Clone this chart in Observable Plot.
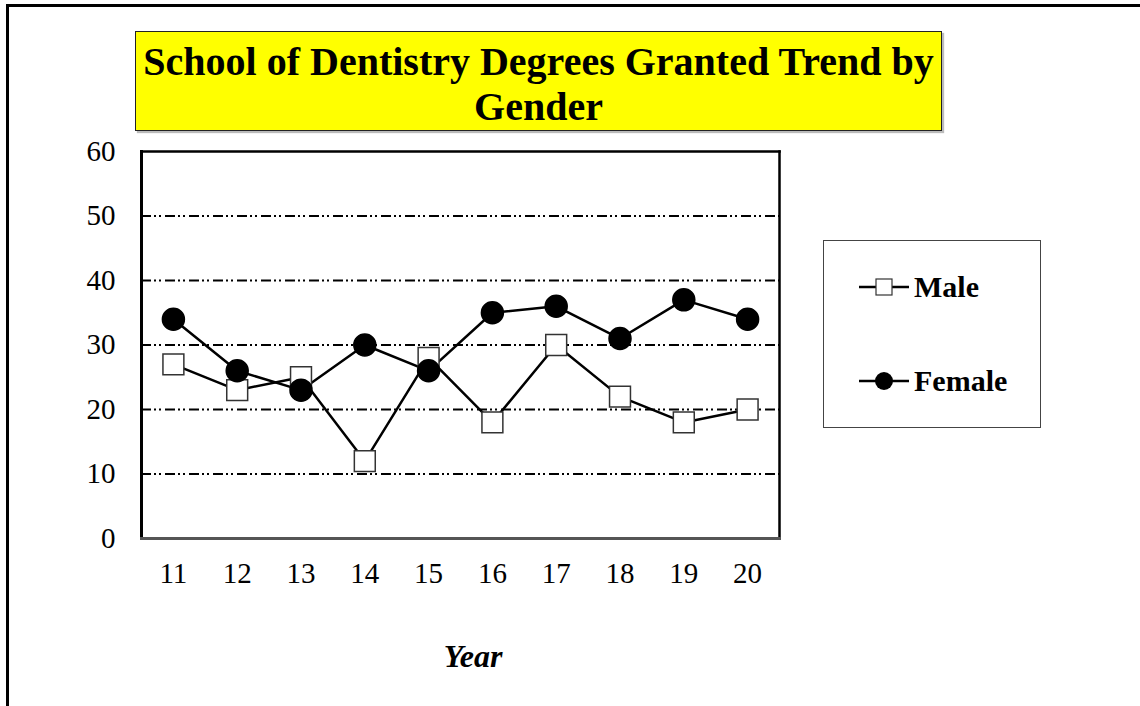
<!DOCTYPE html>
<html>
<head>
<meta charset="utf-8">
<script src="https://cdn.jsdelivr.net/npm/d3@7"></script>
<script src="https://cdn.jsdelivr.net/npm/@observablehq/plot@0.6"></script>
<style>
  html, body { margin: 0; padding: 0; background: #fff; }
  #wrap { position: relative; width: 1140px; height: 706px; overflow: hidden; font-family: "Liberation Serif", "Times New Roman", serif; }
  #outer { position: absolute; left: 6px; top: 4px; width: 1200px; height: 800px; border-left: 3px solid #000; border-top: 3px solid #000; box-sizing: border-box; }
  #title { position: absolute; left: 135px; top: 31px; width: 807px; height: 100px; box-sizing: border-box; background: #ffff00; border: 1px solid #222; box-shadow: 2px 2px 1px #bbb; text-align: center; font-weight: bold; font-size: 40px; line-height: 45px; padding-top: 7px; color: #000; white-space: nowrap; }
  #legend { position: absolute; left: 823px; top: 240px; width: 218px; height: 188px; box-sizing: border-box; border: 1px solid #444; background: #fff; }
  .item { position: absolute; left: 34px; display: flex; align-items: center; font-weight: bold; font-size: 30px; }
  .item svg { margin-right: 4px; }
  #xlabel { position: absolute; left: 373px; width: 200px; top: 638px; text-align: center; font-weight: bold; font-style: italic; font-size: 32px; }
  #chart { position: absolute; left: 0; top: 0; }
</style>
</head>
<body>
<div id="wrap">
  <div id="outer"></div>
  <div id="chart"></div>
  <div id="title"></div>
  <div id="legend"></div>
  <div id="xlabel"></div>
</div>
<script>
const titleLines = ["School of Dentistry Degrees Granted Trend by", "Gender"];
const xLabel = "Year";
const years = [11, 12, 13, 14, 15, 16, 17, 18, 19, 20];
const male = [27, 23, 25, 12, 28, 18, 30, 22, 18, 20];
const female = [34, 26, 23, 30, 26, 35, 36, 31, 37, 34];
const seriesNames = ["Male", "Female"];
const yTicks = [0, 10, 20, 30, 40, 50, 60];
const gridTicks = [10, 20, 30, 40, 50];

const maleData = years.map((y, i) => ({year: y, value: male[i], series: seriesNames[0]}));
const femaleData = years.map((y, i) => ({year: y, value: female[i], series: seriesNames[1]}));

const titleEl = document.getElementById("title");
titleLines.forEach((t, i) => {
  if (i) titleEl.appendChild(document.createElement("br"));
  titleEl.appendChild(document.createTextNode(t));
});
document.getElementById("xlabel").textContent = xLabel;

const dash = "10,3,2,3,2,4";
const fontStyle = {fontFamily: "'Liberation Serif', 'Times New Roman', serif", fontSize: "29px", color: "#000"};

const plot = Plot.plot({
  width: 1140,
  height: 706,
  marginLeft: 141,
  marginRight: 361,
  marginTop: 151,
  marginBottom: 168,
  style: {...fontStyle, background: "transparent", overflow: "visible"},
  x: {type: "point", domain: years, padding: 0.5, round: false, label: null},
  y: {domain: [0, 60], label: null},
  marks: [
    Plot.ruleY(gridTicks, {stroke: "#000", strokeWidth: 2.2, strokeDasharray: dash}),
    Plot.frame({anchor: "top", stroke: "#000", strokeWidth: 2.5}),
    Plot.frame({anchor: "right", stroke: "#000", strokeWidth: 2.5}),
    Plot.frame({anchor: "left", stroke: "#000", strokeWidth: 3, strokeDasharray: "12,2"}),
    Plot.frame({anchor: "bottom", stroke: "#555", strokeWidth: 3}),
    Plot.axisY({ticks: yTicks, tickSize: 0, tickPadding: 26, tickFormat: d => String(d), fontSize: 29, label: null}),
    Plot.axisX({tickSize: 0, tickPadding: 24, tickFormat: d => String(d), fontSize: 29, label: null}),
    Plot.line(maleData, {x: "year", y: "value", stroke: "#000", strokeWidth: 2.5}),
    Plot.line(femaleData, {x: "year", y: "value", stroke: "#000", strokeWidth: 2.5}),
    Plot.dot(maleData, {x: "year", y: "value", symbol: "square", r: 11.8, fill: "#fff", stroke: "#333", strokeWidth: 1.5}),
    Plot.dot(femaleData, {x: "year", y: "value", symbol: "circle", r: 11, fill: "#000", stroke: "#000"})
  ]
});
document.getElementById("chart").appendChild(plot);

// Legend
const legend = document.getElementById("legend");
const symbols = {
  Male: `<svg width="52" height="20"><line x1="1" y1="10" x2="51" y2="10" stroke="#000" stroke-width="2.5"/><rect x="18" y="2" width="16" height="16" fill="#fff" stroke="#333" stroke-width="1.2"/></svg>`,
  Female: `<svg width="52" height="20"><line x1="1" y1="10" x2="51" y2="10" stroke="#000" stroke-width="2.5"/><circle cx="26" cy="10" r="9" fill="#000"/></svg>`
};
const tops = [29, 123];
seriesNames.forEach((name, i) => {
  const d = document.createElement("div");
  d.className = "item";
  d.style.top = tops[i] + "px";
  d.innerHTML = symbols[name] + `<span>${name}</span>`;
  legend.appendChild(d);
});
</script>
</body>
</html>
